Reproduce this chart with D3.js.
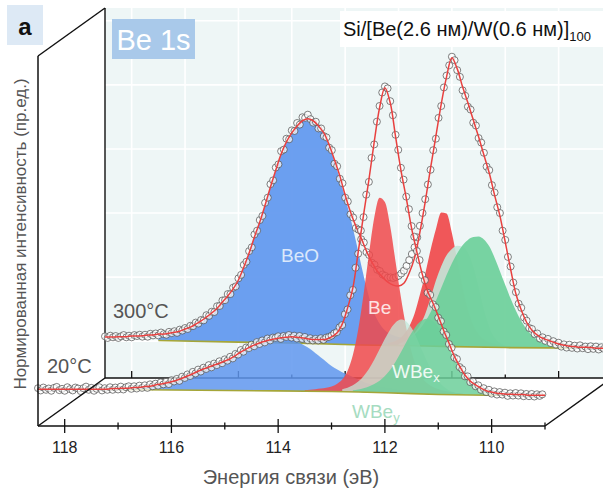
<!DOCTYPE html>
<html>
<head>
<meta charset="utf-8">
<script src="https://cdn.jsdelivr.net/npm/d3@7"></script>
<style>
  body { margin: 0; background: #ffffff; }
  svg { display: block; font-family: "Liberation Sans", Arial, sans-serif; }
</style>
</head>
<body>
<svg id="chart" width="603" height="489"></svg>
<script>
// ---------------- data ----------------
// Binding energy grid: fits and components every 0.1 eV, measured points every 0.05 eV,
// all starting at 118.5 eV and running toward lower energies.
const gridStart = 118.5;
const fitStep = 0.1;
const dataStep = 0.05;

const majorTicks = [118, 116, 114, 112, 110];
const minorTicks = [117, 115, 113, 111, 109];
const gridEnergies = [118, 117, 116, 115, 114, 113, 112, 111, 110];
const gridIntensity = [0, 20, 40, 60, 80, 100];

// 300 °C spectrum (back plane): envelope of the fit
const fit300 = [1.3,1.3,1.3,1.4,1.4,1.6,1.6,1.7,1.9,1.9,
  2.2,2.2,2.5,2.8,3.1,3.8,4.4,5.3,6.3,7.5,
  8.8,10.3,12.2,14.1,16.3,19.1,23.1,27.5,32.5,37.2,
  42.5,48.1,53.4,58.4,62.2,65.0,67.2,68.8,69.4,68.8,
  67.2,65.0,61.3,56.6,51.6,45.6,40.3,35.9,32.2,28.1,
  24.7,21.9,20.0,18.4,17.5,17.2,18.1,21.3,26.0,34.0,
  43.5,54.0,64.0,74.0,82.5,88.5,85.0,79.4,74.4,69.1,
  63.8,58.1,52.5,45.6,39.1,30.9,22.5,14.7,9.7,5.9,
  3.4,1.9,0.9,0.3,-0.3,-0.9,-1.3,-1.6,-1.7,-1.9,
  -1.9,-2.0,-2.2,-2.2,-2.2,-2.2];

// 300 °C measured points
const data300 = [1.5,1.0,1.7,1.2,1.6,1.0,1.5,1.9,1.2,1.7,
  1.2,1.9,1.6,2.0,1.4,2.0,1.4,2.3,1.8,2.4,
  1.8,2.7,2.2,2.0,2.9,2.5,3.1,2.6,3.6,3.3,
  4.1,3.8,4.8,4.7,5.8,5.5,6.6,6.5,8.1,7.9,
  9.2,9.1,10.9,11.0,12.7,12.8,14.7,14.7,16.7,17.1,
  19.6,20.7,23.8,24.8,28.1,29.3,33.3,34.5,37.8,39.1,
  43.2,44.8,49.0,50.2,54.2,55.2,59.3,59.8,63.2,63.0,
  65.8,65.6,68.1,67.6,69.9,69.7,70.7,69.3,68.2,68.5,
  66.4,66.4,64.0,63.6,60.4,59.6,55.4,54.6,50.7,49.3,
  44.8,43.6,39.6,38.6,35.3,34.8,31.8,30.8,27.8,26.9,
  24.5,23.9,22.3,21.9,20.8,20.4,19.8,19.9,19.7,20.0,
  20.4,21.1,22.0,23.5,25.3,27.2,29.3,32.4,36.0,40.0,
  44.3,48.9,53.5,59.6,63.2,69.7,73.4,79.2,82.9,86.1,
  88.8,87.7,84.6,82.5,78.3,76.6,73.2,72.3,68.2,67.3,
  63.4,62.0,58.8,54.5,53.4,48.7,46.4,41.8,40.0,34.5,
  31.6,26.3,23.3,18.3,15.3,11.7,10.4,7.4,6.4,4.1,
  3.8,2.2,2.4,0.8,1.2,0.1,0.7,-0.6,0.0,-1.1,
  -0.5,-1.7,-1.0,-2.0,-1.1,-2.1,-1.4,-2.3,-1.3,-2.2,
  -1.7,-2.5,-1.6,-2.4,-1.7,-2.6,-1.9,-2.4,-1.8,-2.5];

// 300 °C background (energy, intensity)
const bg300Energy = [117.5, 116.0, 114.85, 113.7, 112.5, 112.0, 111.0, 110.2, 109.0];
const bg300Value  = [0.2, -0.3, -0.6, -1.2, -1.5, -1.7, -2.0, -2.1, -2.2];

// 300 °C components (height above background), first energy of each
const beo300Start = 117.5;
const beo300 = [1.2,1.5,2.0,2.5,3.0,3.7,4.4,5.3,6.4,7.6,
  8.9,10.4,12.4,14.3,16.6,19.4,23.4,27.8,32.9,37.6,
  42.9,48.5,53.9,58.9,62.7,65.5,67.8,69.4,70.0,69.4,
  67.9,65.6,61.9,57.0,51.6,45.8,39.5,32.5,25.0,18.0,
  12.0,8.0,5.5,4.0,3.2,2.7,2.4,2.2,2.0,1.9,
  1.8,1.7,1.6,1.5,1.4,1.3,1.2,1.1,1.0,0.9,
  0.8,0.7,0.6,0.5,0.4,0.3,0.2];
const be300Start = 113.2;
const be300 = [0.7,1.2,2.0,3.5,6.0,10.0,16.0,22.5,30.0,36.5,
  41.8,41.5,35.5,27.0,18.5,11.5,6.8,4.0,2.5,1.6,1.1,0.7,0.4];
const wbey300Start = 113.0;
const wbey300 = [0.5,1.2,2.3,4.0,6.5,10.0,15.0,20.5,25.0,28.5,
  30.5,31.5,31.2,29.3,25.0,18.5,11.5,6.2,3.0,1.4,0.6,0.2];
const wbex300Start = 112.9;
const wbex300 = [1.2,2.2,3.5,5.3,7.6,10.6,14.2,18.2,22.3,26.0,
  29.2,31.7,33.4,34.3,34.5,33.6,31.5,28.0,23.8,19.5,
  15.3,11.5,8.3,5.8,3.9,2.5,1.5,0.9,0.5,0.3,0.15,0.05];

// 20 °C spectrum (front plane): envelope of the fit
const fit20 = [0,0,0,0,0,0,0,0,0,0,
  0,0,0,0,0.2,0.2,0.3,0.3,0.5,0.6,
  0.8,0.9,1.3,1.6,1.9,2.3,2.8,3.4,4.1,4.8,
  5.6,6.3,6.9,7.5,8.1,8.8,9.5,10.5,11.6,12.5,
  13.4,14.1,14.7,15.2,15.6,15.9,16.1,16.3,16.3,16.1,
  15.9,15.6,15.5,15.5,15.6,16.3,17.5,20.3,25.3,31.6,
  42.8,54.4,65.3,77.2,87.8,94.1,89.4,78.8,68.4,59.7,
  50.3,42.8,35.9,30.6,26.9,22.8,18.4,14.4,10.3,7.2,
  4.4,2.5,1.3,0.3,-0.5,-0.9,-1.3,-1.4,-1.6,-1.6,
  -1.7,-1.7,-1.9,-1.9,-1.9,-1.9];

// 20 °C measured points
const data20 = [0.3,-0.4,0.5,-0.2,0.2,-0.5,0.4,0.7,-0.3,0.1,
  -0.5,0.6,0.0,-0.4,0.5,0.2,-0.6,0.3,0.8,-0.2,
  0.4,-0.5,0.1,0.6,-0.4,0.3,-0.2,0.6,-0.2,0.5,
  -0.1,0.8,-0.1,0.6,0.9,0.1,0.9,0.2,1.1,0.4,
  1.2,0.4,1.5,0.9,1.7,1.1,2.1,1.5,2.3,1.6,
  2.8,2.4,3.2,2.6,3.9,3.5,4.6,4.1,5.4,4.9,
  6.1,5.5,6.7,6.3,7.5,6.8,8.0,7.5,8.7,8.1,
  9.3,8.9,10.1,9.6,11.0,10.8,12.2,11.7,13.0,12.8,
  13.9,13.4,14.7,14.1,15.2,14.6,15.8,15.2,16.1,16.0,
  16.5,15.7,16.6,16.3,16.9,16.1,16.7,15.8,16.6,15.7,
  16.3,15.3,15.9,15.2,15.7,15.2,15.9,15.4,16.1,16.3,
  16.7,17.4,17.8,19.3,20.0,23.4,24.9,29.3,31.0,37.9,
  42.3,49.5,53.7,60.7,64.7,72.2,76.4,83.5,88.4,92.6,
  94.5,93.9,89.9,85.5,79.4,74.7,69.1,65.4,60.1,56.2,
  50.9,47.6,43.1,40.3,35.6,34.0,30.1,29.4,26.5,25.6,
  22.3,21.2,18.0,16.9,14.1,12.9,9.9,9.4,6.9,6.2,
  4.0,4.0,2.2,2.4,0.9,1.2,-0.2,0.3,-0.9,-0.2,
  -1.4,-0.7,-1.7,-0.9,-1.7,-1.1,-2.1,-1.3,-2.0,-1.2,
  -2.0,-1.3,-2.2,-1.5,-2.2,-1.5,-2.3,-1.6,-2.1,-1.6];

// 20 °C background
const bg20Energy = [118.5, 117.0, 116.0, 114.0, 113.0, 112.5, 112.0, 111.5, 111.0, 110.1, 109.0];
const bg20Value  = [0, -0.1, -0.25, -0.55, -0.75, -0.9, -1.1, -1.4, -1.65, -1.9, -1.9];

// 20 °C components
const beo20Start = 117.0;
const beo20 = [0.4,0.5,0.6,0.7,0.9,1.1,1.2,1.6,1.9,2.2,
  2.6,3.1,3.7,4.4,5.2,6.0,6.7,7.3,8.0,8.6,
  9.2,10.0,11.0,12.1,13.0,13.9,14.6,15.2,15.7,16.1,
  16.4,16.4,16.2,15.8,15.1,14.2,13.2,11.9,10.6,9.3,
  8.0,7.0,6.1,5.4,4.7,3.9,3.2,2.7,2.3,2.0,
  1.7,1.5,1.3,1.1,0.9,0.8,0.6,0.5,0.4,0.3,
  0.2,0.1];
const be20Start = 113.5;
const be20 = [0.4,0.5,0.7,0.9,1.2,1.6,2.4,3.8,6.5,11.5,
  19.5,30.5,43.0,54.5,60.8,59.5,52.0,41.0,30.0,20.5,
  13.0,8.0,5.0,3.3,2.3,1.7,1.2,0.9,0.6,0.4,0.2];
const wbey20Start = 112.8;
const wbey20 = [0.8,1.3,2.1,3.3,5.0,7.3,10.2,13.5,16.8,19.8,
  22.0,23.0,22.5,20.5,17.3,13.5,9.8,6.6,4.2,2.5,1.4,0.7,0.3,0.1];
const wbex20Start = 112.6;
const wbex20 = [0.5,0.8,1.2,1.8,2.6,3.7,5.2,7.2,9.8,12.8,
  16.0,19.0,21.5,23.0,23.5,22.8,21.0,18.0,14.8,11.2,
  8.4,5.9,4.1,2.9,1.9,1.2,0.7,0.4,0.2,0.1];

// ---------------- styles ----------------
const colBeO = "#5f97ef";
const colBe = "#f0494b";
const colWBeY = "#c3e8d9";
const colWBeX = "#6ccf9a";
const colFit = "#e8403f";
const colBg = "#a5a638";

// ---------------- scales ----------------
const svg = d3.select("#chart");
const x = d3.scaleLinear().domain([118.5, 109]).range([38, 545]);
const y = d3.scaleLinear().domain([-11.5, 104]).range([426, 56]);
const depthX = 67, depthY = -48;   // offset of the back plane

const [eLeft, eRight] = x.domain();
const [vBottom, vTop] = y.domain();

// ---------------- back plane ----------------
const back = svg.append("g").attr("transform", `translate(${depthX},${depthY})`);
back.append("rect")
  .attr("x", x(eLeft)).attr("y", y(vTop))
  .attr("width", x(eRight) - x(eLeft)).attr("height", y(vBottom) - y(vTop))
  .attr("fill", "#eef6f6");
back.selectAll("line.gv").data(gridEnergies).join("line")
  .attr("x1", d => x(d)).attr("x2", d => x(d))
  .attr("y1", y(vTop)).attr("y2", y(vBottom))
  .attr("stroke", "#ffffff").attr("stroke-width", 1.6);
back.selectAll("line.gh").data(gridIntensity).join("line")
  .attr("x1", x(eLeft)).attr("x2", x(eRight))
  .attr("y1", d => y(d)).attr("y2", d => y(d))
  .attr("stroke", "#ffffff").attr("stroke-width", 1.6);
// back frame: left edge and bottom axis with inward ticks
back.append("line").attr("x1", x(eLeft)).attr("x2", x(eLeft))
  .attr("y1", y(vTop)).attr("y2", y(vBottom)).attr("stroke", "#111").attr("stroke-width", 1.4);
back.append("line").attr("x1", x(eLeft)).attr("x2", x(eRight))
  .attr("y1", y(vBottom)).attr("y2", y(vBottom)).attr("stroke", "#111").attr("stroke-width", 1.4);
back.selectAll("line.tM").data(majorTicks).join("line")
  .attr("x1", d => x(d)).attr("x2", d => x(d))
  .attr("y1", y(vBottom)).attr("y2", y(vBottom) - 7).attr("stroke", "#111").attr("stroke-width", 1.3);
back.selectAll("line.tm").data(minorTicks).join("line")
  .attr("x1", d => x(d)).attr("x2", d => x(d))
  .attr("y1", y(vBottom)).attr("y2", y(vBottom) - 3.5).attr("stroke", "#111").attr("stroke-width", 1.3);

// ---------------- spectrum drawing ----------------
function drawSpectrum(g, spec) {
  const bgAt = d3.scaleLinear().domain(spec.bgEnergy).range(spec.bgValue).clamp(true);

  spec.components.forEach(c => {
    const pts = c.values.map((v, i) => ({ e: c.start - i * fitStep, v }));
    g.append("path").datum(pts)
      .attr("d", d3.area()
        .x(d => x(d.e))
        .y0(d => y(bgAt(d.e)))
        .y1(d => y(bgAt(d.e) + d.v))
        .curve(d3.curveMonotoneX))
      .attr("fill", c.color)
      .attr("fill-opacity", c.opacity);
  });

  g.append("path")
    .datum(spec.bgEnergy.map((e, i) => [x(e), y(spec.bgValue[i])]))
    .attr("d", d3.line())
    .attr("fill", "none").attr("stroke", colBg).attr("stroke-width", 1.6);

  g.append("g").selectAll("circle")
    .data(spec.points.map((v, i) => ({ e: gridStart - i * dataStep, v })))
    .join("circle")
    .attr("cx", d => x(d.e)).attr("cy", d => y(d.v)).attr("r", 3.5)
    .attr("fill", "#ffffff").attr("fill-opacity", 0.7)
    .attr("stroke", "#4a4a4a").attr("stroke-width", 0.7);

  g.append("path")
    .datum(spec.fit.map((v, i) => ({ e: gridStart - i * fitStep, v })))
    .attr("d", d3.line().x(d => x(d.e)).y(d => y(d.v)).curve(d3.curveCatmullRom.alpha(0.5)))
    .attr("fill", "none").attr("stroke", colFit).attr("stroke-width", 1.5);
}

drawSpectrum(back, {
  bgEnergy: bg300Energy, bgValue: bg300Value,
  fit: fit300, points: data300,
  components: [
    { start: beo300Start, values: beo300, color: colBeO, opacity: 0.92 },
    { start: be300Start, values: be300, color: colBe, opacity: 0.92 },
    { start: wbey300Start, values: wbey300, color: colWBeY, opacity: 0.9 },
    { start: wbex300Start, values: wbex300, color: colWBeX, opacity: 0.92 }
  ]
});

const front = svg.append("g");
drawSpectrum(front, {
  bgEnergy: bg20Energy, bgValue: bg20Value,
  fit: fit20, points: data20,
  components: [
    { start: beo20Start, values: beo20, color: colBeO, opacity: 0.85 },
    { start: be20Start, values: be20, color: colBe, opacity: 0.85 },
    { start: wbey20Start, values: wbey20, color: colWBeY, opacity: 0.75 },
    { start: wbex20Start, values: wbex20, color: colWBeX, opacity: 0.85 }
  ]
});

// ---------------- front frame ----------------
const frame = svg.append("g").attr("stroke", "#111").attr("stroke-width", 1.5).attr("fill", "none");
frame.append("line").attr("x1", x(eLeft)).attr("x2", x(eRight)).attr("y1", y(vBottom)).attr("y2", y(vBottom));
frame.append("line").attr("x1", x(eLeft)).attr("x2", x(eLeft)).attr("y1", y(vTop)).attr("y2", y(vBottom));
frame.append("line").attr("x1", x(eLeft)).attr("y1", y(vTop)).attr("x2", x(eLeft) + depthX).attr("y2", y(vTop) + depthY);
frame.append("line").attr("x1", x(eLeft)).attr("y1", y(vBottom)).attr("x2", x(eLeft) + depthX).attr("y2", y(vBottom) + depthY);
frame.append("line").attr("x1", x(eRight)).attr("y1", y(vBottom)).attr("x2", x(eRight) + depthX).attr("y2", y(vBottom) + depthY);
frame.selectAll("line.fM").data(majorTicks).join("line")
  .attr("x1", d => x(d)).attr("x2", d => x(d))
  .attr("y1", y(vBottom) - 7).attr("y2", y(vBottom) + 7).attr("stroke-width", 1.3);
frame.selectAll("line.fm").data(minorTicks).join("line")
  .attr("x1", d => x(d)).attr("x2", d => x(d))
  .attr("y1", y(vBottom) - 3.5).attr("y2", y(vBottom) + 3.5).attr("stroke-width", 1.3);

svg.append("g").selectAll("text").data(majorTicks).join("text")
  .attr("x", d => x(d)).attr("y", 453)
  .attr("text-anchor", "middle").attr("font-size", 16).attr("fill", "#222")
  .text(d3.format("d"));

// ---------------- titles and labels ----------------
svg.append("text").attr("x", 291).attr("y", 484).attr("text-anchor", "middle")
  .attr("font-size", 20).attr("fill", "#555").text("Энергия связи (эВ)");
svg.append("text").attr("transform", "translate(26,234) rotate(-90)").attr("text-anchor", "middle")
  .attr("font-size", 17).attr("fill", "#555").text("Нормированная интенсивность (пр.ед.)");

svg.append("rect").attr("x", 7).attr("y", 5).attr("width", 36).attr("height", 40).attr("fill", "#dde9f5");
svg.append("text").attr("x", 25).attr("y", 35).attr("text-anchor", "middle")
  .attr("font-size", 24).attr("font-weight", "bold").attr("fill", "#111").text("a");

svg.append("rect").attr("x", 112).attr("y", 19).attr("width", 83).attr("height", 40).attr("fill", "#a9c9ea");
svg.append("text").attr("x", 153.5).attr("y", 50).attr("text-anchor", "middle")
  .attr("font-size", 29).attr("fill", "#ffffff").text("Be 1s");

svg.append("rect").attr("x", 340).attr("y", 11).attr("width", 270).attr("height", 36).attr("fill", "#ffffff");
const title = svg.append("text").attr("x", 343).attr("y", 36).attr("font-size", 20).attr("fill", "#111");
title.append("tspan").text("Si/[Be(2.6 нм)/W(0.6 нм)]");
title.append("tspan").attr("dy", 5).attr("font-size", 13).text("100");

svg.append("text").attr("x", 113).attr("y", 318).attr("font-size", 20).attr("fill", "#555").text("300°C");
svg.append("text").attr("x", 47).attr("y", 373).attr("font-size", 20).attr("fill", "#555").text("20°C");

svg.append("text").attr("x", 300).attr("y", 262).attr("text-anchor", "middle")
  .attr("font-size", 19).attr("fill", "#dbe8fb").text("BeO");
svg.append("text").attr("x", 368).attr("y", 314)
  .attr("font-size", 19).attr("fill", "#fde3e3").text("Be");
const wbx = svg.append("text").attr("x", 392).attr("y", 378).attr("font-size", 19).attr("fill", "#eef9f3");
wbx.append("tspan").text("WBe");
wbx.append("tspan").attr("dy", 4).attr("font-size", 13).text("x");
const wby = svg.append("text").attr("x", 352).attr("y", 418).attr("font-size", 19).attr("fill", "#a6dcc1");
wby.append("tspan").text("WBe");
wby.append("tspan").attr("dy", 4).attr("font-size", 13).text("y");
</script>
</body>
</html>
